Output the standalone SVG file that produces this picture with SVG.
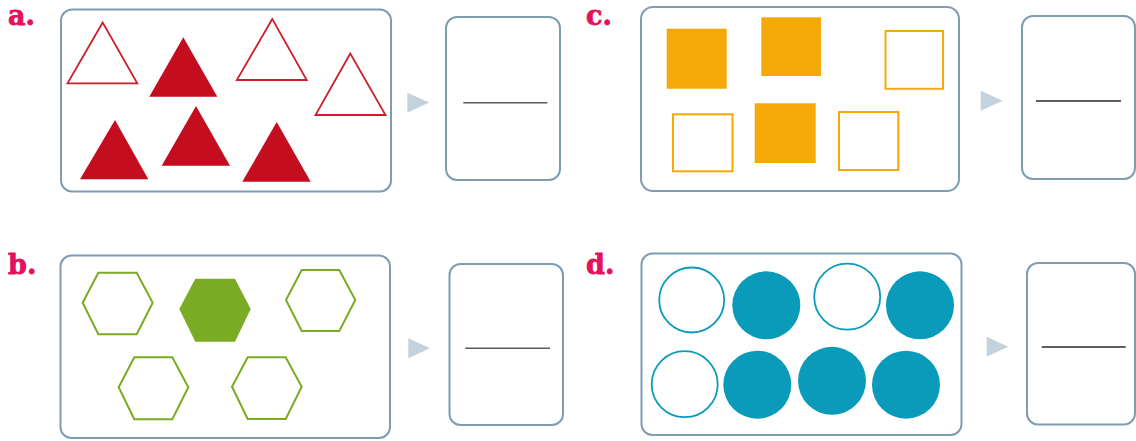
<svg xmlns="http://www.w3.org/2000/svg" width="1136" height="441" viewBox="0 0 1136 441">
<style>
.lbl{font-family:"DejaVu Serif","Liberation Serif",serif;font-weight:bold;font-size:27px;fill:#e2125c;stroke:#e2125c;stroke-width:0.8}
.box{fill:#fff;stroke:#7f9db2;stroke-width:2}
.arr{fill:#c3d3de}
.ans{stroke:#5a5a5a;stroke-width:1.6}
.ans2{stroke:#2a2a2a;stroke-width:1.4}
.tri-f{fill:#c40d1e}
.tri-o{fill:#fff;stroke:#c8202e;stroke-width:1.8}
.sq-f{fill:#f5a908}
.sq-o{fill:#fff;stroke:#f5a908;stroke-width:2}
.hex-f{fill:#7aab24}
.hex-o{fill:#fff;stroke:#7aab24;stroke-width:2}
.cir-f{fill:#0a9aba}
.cir-o{fill:#fff;stroke:#0a9aba;stroke-width:1.8}
</style>
<rect width="1136" height="441" fill="#fff"/>

<g id="panel-a">
  <text class="lbl" x="8" y="25">a.</text>
  <rect class="box" x="61" y="9.5" width="330" height="182" rx="11"/>
  <polygon class="tri-o" points="102.7,22.5 67.5,83.3 137.3,83.3"/>
  <polygon class="tri-f" points="183.3,37.3 149.3,96.7 217.3,96.7"/>
  <polygon class="tri-o" points="272.3,19 236.8,80 306.7,80"/>
  <polygon class="tri-o" points="350.3,53.5 315.5,115 385.5,115"/>
  <polygon class="tri-f" points="115,120 80,179.3 148.3,179.3"/>
  <polygon class="tri-f" points="196,106 161.7,165.7 230,165.7"/>
  <polygon class="tri-f" points="276.7,122 242.3,181.7 310.7,181.7"/>
</g>
<g id="answer-a">
  <rect class="box" x="446" y="17" width="114" height="163" rx="11"/>
  <line class="ans" x1="463.3" y1="102.7" x2="547.3" y2="102.7"/>
</g>

<g id="panel-c">
  <text class="lbl" x="586" y="25">c.</text>
  <rect class="box" x="641" y="7" width="318" height="184" rx="12"/>
  <rect class="sq-f" x="666.7" y="28.7" width="60" height="60"/>
  <rect class="sq-f" x="761.3" y="17.3" width="59.7" height="58.7"/>
  <rect class="sq-o" x="885.5" y="31" width="57.5" height="57.8"/>
  <rect class="sq-o" x="673" y="114.3" width="59.5" height="57"/>
  <rect class="sq-f" x="754.7" y="103.3" width="61" height="59.7"/>
  <rect class="sq-o" x="839" y="112" width="59.3" height="58"/>
</g>
<g id="answer-c">
  <rect class="box" x="1022" y="16" width="113" height="163" rx="11"/>
  <line class="ans2" x1="1036" y1="101" x2="1121" y2="101"/>
</g>

<g id="panel-b">
  <text class="lbl" x="8" y="274">b.</text>
  <rect class="box" x="60.5" y="255.5" width="329.5" height="182.5" rx="11"/>
  <polygon class="hex-o" points="82.7,302.7 98.3,272.7 136.7,272.7 152.7,302.7 136.7,334.3 98.3,334.3"/>
  <polygon class="hex-f" points="179.3,309 195.3,278.7 235,278.7 250.7,309 235,341.7 195.3,341.7"/>
  <polygon class="hex-o" points="286,300 301.7,270 339.3,270 355.3,300 339.3,331 301.7,331"/>
  <polygon class="hex-o" points="118.7,387.3 134.3,357.3 172.3,357.3 188.3,387.3 172.3,419.3 134.3,419.3"/>
  <polygon class="hex-o" points="232,386.7 247.7,357.3 285.7,357.3 301.7,386.7 285.7,419 247.7,419"/>
</g>
<g id="answer-b">
  <rect class="box" x="449.5" y="264" width="113.5" height="161" rx="11"/>
  <line class="ans" x1="465.3" y1="348.3" x2="550" y2="348.3"/>
</g>

<g id="panel-d">
  <text class="lbl" x="586" y="274">d.</text>
  <rect class="box" x="641.5" y="253.5" width="320" height="181.5" rx="11"/>
  <circle class="cir-o" cx="691.7" cy="300" r="32.5"/>
  <circle class="cir-f" cx="766.3" cy="305.3" r="34"/>
  <circle class="cir-o" cx="847.2" cy="296.7" r="33"/>
  <circle class="cir-f" cx="920" cy="305.3" r="34"/>
  <circle class="cir-o" cx="684.7" cy="384.2" r="33"/>
  <circle class="cir-f" cx="757.3" cy="384.7" r="34"/>
  <circle class="cir-f" cx="832" cy="380.8" r="34"/>
  <circle class="cir-f" cx="906" cy="384.7" r="34"/>
</g>
<g id="answer-d">
  <rect class="box" x="1027" y="263" width="108" height="161.5" rx="11"/>
  <line class="ans2" x1="1041.7" y1="347" x2="1125.7" y2="347"/>
</g>

<g id="connectors">
  <polygon class="arr" points="407.3,92.7 407.3,112.7 429.3,102.5"/>
  <polygon class="arr" points="980.7,90.7 980.7,110.7 1002.7,100.7"/>
  <polygon class="arr" points="408.3,338.3 408.3,358.3 430,348.3"/>
  <polygon class="arr" points="986.7,336.7 986.7,356.7 1008.3,346.7"/>
</g>
</svg>
